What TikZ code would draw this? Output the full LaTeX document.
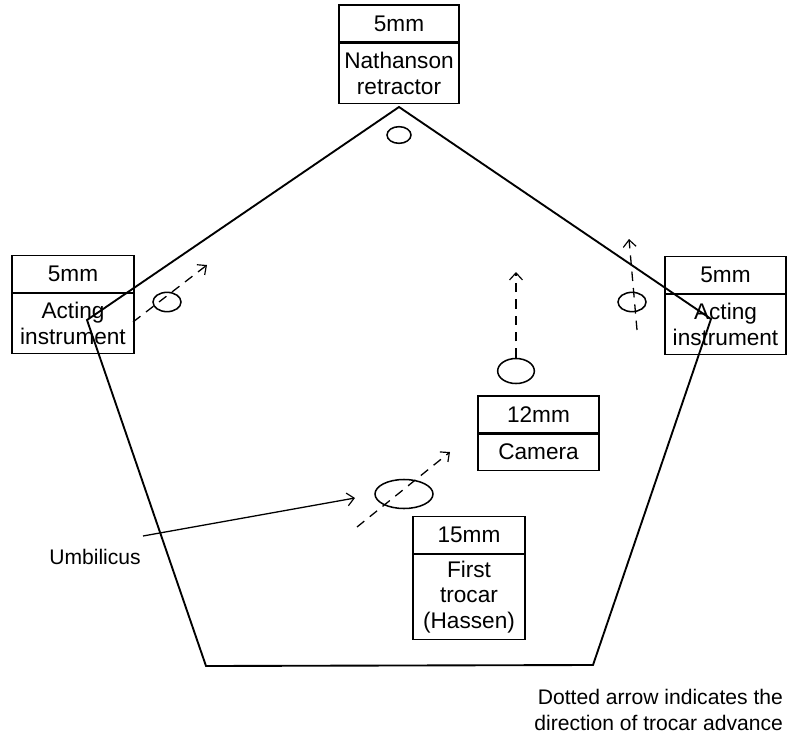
\documentclass[tikz,border=0pt]{standalone}
\usepackage{fontspec}
\setmainfont{Liberation Sans}
\usetikzlibrary{positioning,shapes.geometric,arrows.meta}

\begin{document}
\begin{tikzpicture}[x=0.03cm, y=-0.03cm,
  every node/.style = {font = \fontsize{19.3}{22}\selectfont},
  sizebox/.style = {draw, line width = 0.9pt, shape = rectangle, inner sep = 0pt, minimum height = 1.11cm},
  namebox/.style = {draw, line width = 0.9pt, shape = rectangle, inner sep = 0pt, align = center},
  port/.style = {draw, line width = 1.3pt, shape = ellipse, inner sep = 0pt},
  plain/.style = {font = \fontsize{18}{21.5}\selectfont},
  tip/.style = {-{Straight Barb[length = 6pt, width = 11pt, line width = 1pt]}},
  advance/.style = {tip, dashed, dash pattern = on 8pt off 6pt, line width = 1.1pt}]
\useasboundingbox (0,0) rectangle (791,734);

% abdominal wall
\draw[line width = 1.6pt, line join = miter] (399,107) -- (711,319) -- (593,665) -- (206,666) -- (87,320) -- cycle;

% trocar labels
\node[sizebox, minimum width = 3.6cm] (nath-size) at (399,23.5) {5mm};
\node[namebox, minimum width = 3.6cm, minimum height = 1.8cm, below = 0pt of nath-size] (nath-name) {Nathanson\\retractor};

\node[sizebox, minimum width = 3.66cm] (left-size) at (73,274) {5mm};
\node[namebox, minimum width = 3.66cm, minimum height = 1.8cm, below = 0pt of left-size] (left-name) {Acting\\instrument};

\node[sizebox, minimum width = 3.63cm] (right-size) at (725.5,275) {5mm};
\node[namebox, minimum width = 3.63cm, minimum height = 1.8cm, below = 0pt of right-size] (right-name) {Acting\\instrument};

\node[sizebox, minimum width = 3.63cm] (cam-size) at (538.5,414.5) {12mm};
\node[namebox, minimum width = 3.63cm, minimum height = 1.08cm, below = 0pt of cam-size] (cam-name) {Camera};

\node[sizebox, minimum width = 3.36cm] (first-size) at (469,535) {15mm};
\node[namebox, minimum width = 3.36cm, minimum height = 2.55cm, below = 0pt of first-size] (first-name) {First\\trocar\\(Hassen)};

% ports
\node[port, minimum width = 0.72cm, minimum height = 0.5cm] (nath-port) at (399,135) {};
\node[port, minimum width = 0.84cm, minimum height = 0.58cm] (left-port) at (167,302) {};
\node[port, minimum width = 0.84cm, minimum height = 0.58cm] (right-port) at (632,302) {};
\node[port, minimum width = 1.1cm, minimum height = 0.75cm] (cam-port) at (516,371) {};
\node[port, minimum width = 1.74cm, minimum height = 0.87cm] (umb-port) at (404,494) {};

% direction of advance
\coordinate (left-from) at (133,322);
\coordinate (left-to) at (207,265);
\coordinate (right-from) at (637,330);
\coordinate (right-to) at (629,239);
\coordinate (cam-to) at (516,272);
\coordinate (umb-from) at (357,527);
\coordinate (umb-to) at (450,452);
\draw[advance] (left-from) -- (left-to);
\draw[advance] (right-from) -- (right-to);
\draw[advance] (cam-port.north) -- (cam-to);
\draw[advance] (umb-from) -- (umb-to);

% umbilicus
\node[plain] (umb) at (95,557) {Umbilicus};
\coordinate (umb-start) at (143,536);
\coordinate (umb-tip) at (355,498);
\draw[tip, line width = 1.1pt] (umb-start) -- (umb-tip);

\node[plain, align = right, anchor = east] (note) at (787,710) {Dotted arrow indicates the\\direction of trocar advance};
\end{tikzpicture}
\end{document}
